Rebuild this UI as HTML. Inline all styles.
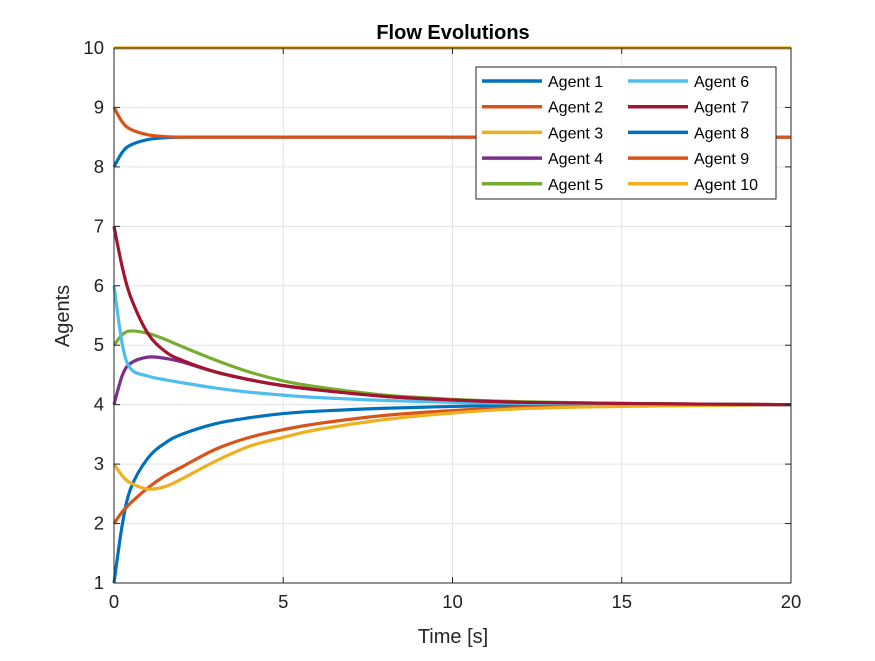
<!DOCTYPE html>
<html><head><meta charset="utf-8"><style>
body{margin:0;background:#fff;}
svg text{font-family:"Liberation Sans",Arial,sans-serif;fill:#262626;}
</style></head><body>
<svg id="chart" width="875" height="656" viewBox="0 0 875 656" xmlns="http://www.w3.org/2000/svg">
<rect x="0" y="0" width="875" height="656" fill="#fff"/>
<rect x="114" y="48" width="677" height="535" fill="#fff"/>
<g id="grid"></g><g id="lines"></g><g id="axes"></g>
<text x="453" y="39" text-anchor="middle" font-size="20" font-weight="bold" style="fill:#000">Flow Evolutions</text>
<text x="453" y="643" text-anchor="middle" font-size="20">Time [s]</text>
<text transform="translate(69,316) rotate(-90)" text-anchor="middle" font-size="20">Agents</text>
<g id="legend"></g>
</svg>
<script>
const times=[0,0.25,0.5,1,1.5,2,3,4,5,6,8,10,12,15,20];
const seriesNames=["Agent 1","Agent 2","Agent 3","Agent 4","Agent 5","Agent 6","Agent 7","Agent 8","Agent 9","Agent 10"];
const agent1=[1,2.0,2.6,3.1,3.35,3.5,3.68,3.78,3.85,3.89,3.94,3.97,3.99,4.0,4.0];
const agent2=[2,2.2,2.35,2.6,2.8,2.95,3.25,3.45,3.58,3.68,3.82,3.9,3.95,3.98,4.0];
const agent3=[3,2.8,2.68,2.58,2.62,2.75,3.05,3.3,3.45,3.58,3.75,3.86,3.93,3.97,4.0];
const agent4=[4,4.5,4.7,4.8,4.78,4.72,4.55,4.42,4.32,4.25,4.14,4.08,4.04,4.02,4.0];
const agent5=[5,5.18,5.24,5.2,5.1,4.98,4.75,4.55,4.4,4.3,4.16,4.09,4.05,4.02,4.0];
const agent6=[6,5.0,4.6,4.48,4.42,4.37,4.28,4.21,4.16,4.12,4.07,4.04,4.02,4.01,4.0];
const agent7=[7,6.3,5.8,5.2,4.9,4.75,4.55,4.42,4.32,4.25,4.14,4.08,4.04,4.02,4.0];
const agent8=[8,8.25,8.37,8.46,8.49,8.5,8.5,8.5,8.5,8.5,8.5,8.5,8.5,8.5,8.5];
const agent9=[9,8.75,8.63,8.54,8.51,8.5,8.5,8.5,8.5,8.5,8.5,8.5,8.5,8.5,8.5];
const agent10=[10,10,10,10,10,10,10,10,10,10,10,10,10,10,10];
const xTicks=[0,5,10,15,20];
const yTicks=[1,2,3,4,5,6,7,8,9,10];
const allSeries=[agent1,agent2,agent3,agent4,agent5,agent6,agent7,agent8,agent9,agent10];
const colors=["#0072BD","#D95319","#EDB120","#7E2F8E","#77AC30","#4DBEEE","#A2142F","#0072BD","#D95319","#EDB120"];
const NS="http://www.w3.org/2000/svg";
const X0=114,X1=791,Y0=583,Y1=48;
function xs(t){return X0+(t-0)/(20-0)*(X1-X0);}
function ys(v){return Y0-(v-1)/(10-1)*(Y0-Y1);}
function mk(tag,attrs,parent){const e=document.createElementNS(NS,tag);for(const k in attrs)e.setAttribute(k,attrs[k]);parent.appendChild(e);return e;}
const grid=document.getElementById('grid'),axes=document.getElementById('axes'),lines=document.getElementById('lines'),leg=document.getElementById('legend');
xTicks.forEach(t=>{
 const g=mk('line',{x1:xs(t),x2:xs(t),y1:Y0,y2:Y1,stroke:'#e3e3e3','stroke-width':1},grid);
 
 
 const tk=mk('line',{x1:xs(t),x2:xs(t),y1:Y0,y2:Y0-6,stroke:'#262626'},axes);
 
 
 const tk2=mk('line',{x1:xs(t),x2:xs(t),y1:Y1,y2:Y1+6,stroke:'#262626'},axes);
 
 
 const tx=mk('text',{x:xs(t),y:Y0+25,'text-anchor':'middle','font-size':18.5,style:'fill:#222'},axes);tx.textContent=t;
 
 
});
yTicks.forEach(v=>{
 const g=mk('line',{x1:X0,x2:X1,y1:ys(v),y2:ys(v),stroke:'#e3e3e3','stroke-width':1},grid);
 
 
 const tk=mk('line',{x1:X0,x2:X0+6,y1:ys(v),y2:ys(v),stroke:'#262626'},axes);
 
 
 const tk2=mk('line',{x1:X1,x2:X1-6,y1:ys(v),y2:ys(v),stroke:'#262626'},axes);
 
 
 const tx=mk('text',{x:X0-10,y:ys(v)+6,'text-anchor':'end','font-size':18.5,style:'fill:#222'},axes);tx.textContent=v;
 
 
});
const box=mk('rect',{x:X0,y:Y1,width:X1-X0,height:Y0-Y1,fill:'none',stroke:'#262626','stroke-width':1},axes);


function pathFor(vals){
 const p=times.map((t,i)=>[xs(t),ys(vals[i])]);
 let d='M'+p[0][0]+','+p[0][1];
 for(let i=0;i<p.length-1;i++){
  const p0=p[Math.max(0,i-1)],p1=p[i],p2=p[i+1],p3=p[Math.min(p.length-1,i+2)];
  const c1=[p1[0]+(p2[0]-p0[0])/6,p1[1]+(p2[1]-p0[1])/6];
  const c2=[p2[0]-(p3[0]-p1[0])/6,p2[1]-(p3[1]-p1[1])/6];
  d+=' C'+c1[0]+','+c1[1]+' '+c2[0]+','+c2[1]+' '+p2[0]+','+p2[1];
 }
 return d;
}
allSeries.forEach((vals,i)=>{
 const l=mk('path',{d:pathFor(vals),fill:'none',stroke:colors[i],'stroke-width':3.2},lines);
 
 
});
const lb=mk('rect',{x:476,y:67,width:300,height:132,fill:'#fff',stroke:'#262626','stroke-width':1},leg);


seriesNames.forEach((n,i)=>{
 const col=Math.floor(i/5),row=i%5;
 const lx=482+col*146,ly=81+row*25.7;
 const e=mk('line',{x1:lx,x2:lx+60,y1:ly,y2:ly,stroke:colors[i],'stroke-width':3.5},leg);
 
 
 const t=mk('text',{x:lx+66,y:ly+6,'font-size':16,style:'fill:#000'},leg);t.textContent=n;
 
 
});
</script>
</body></html>
